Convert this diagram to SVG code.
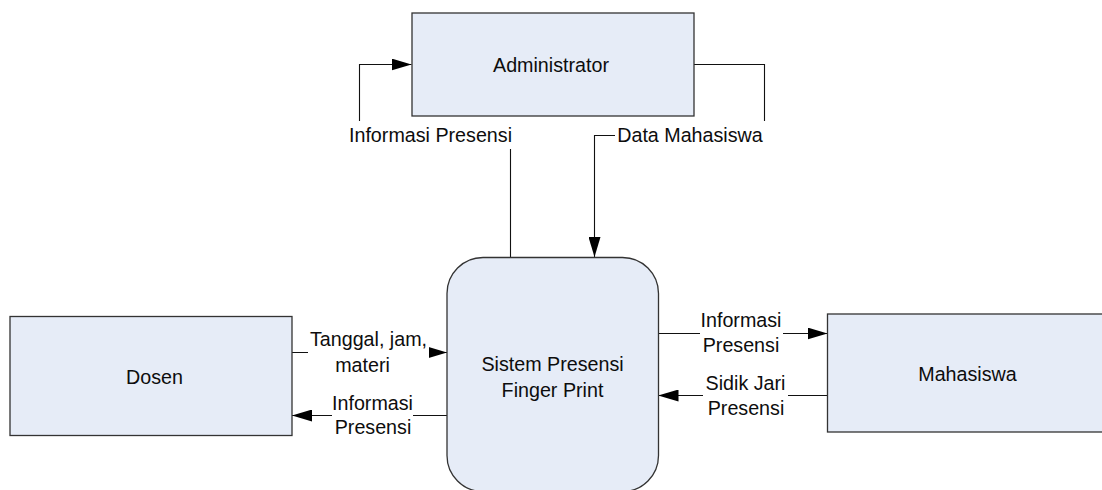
<svg xmlns="http://www.w3.org/2000/svg" width="1102" height="490" viewBox="0 0 1102 490">
  <style>
    .box { fill: #e6ecf7; stroke: #333333; stroke-width: 1.3; }
    .lbl { font-family: "Liberation Sans", Arial, sans-serif; font-size: 19.7px; fill: #0d0d0d; text-anchor: middle; }
    .conn { fill: none; stroke: #111; stroke-width: 1.1; }
    .bg { fill: #ffffff; stroke: none; }
  </style>
  <defs>
    <marker id="arrow" markerUnits="userSpaceOnUse" markerWidth="20" markerHeight="12" refX="20" refY="6" orient="auto">
      <path d="M0,0 L20,6 L0,12 Z" fill="#000"/>
    </marker>
  </defs>
  <rect width="1102" height="490" fill="#ffffff"/>

  <g id="connectors">
    <path class="conn" d="M510.5,257.5 V135.5 H359.5 V64.5 H411.5" marker-end="url(#arrow)"/>
    <path class="conn" d="M694,64.5 H764.5 V135.5 H594.5 V257" marker-end="url(#arrow)"/>
    <path class="conn" d="M292,352.5 H447" marker-end="url(#arrow)"/>
    <path class="conn" d="M447,415.5 H292" marker-end="url(#arrow)"/>
    <path class="conn" d="M658.5,333.5 H827.5" marker-end="url(#arrow)"/>
    <path class="conn" d="M827.5,395.5 H658.5" marker-end="url(#arrow)"/>

    <g id="label-admin-info">
      <rect class="bg" x="347" y="121" width="166" height="28"/>
      <text class="lbl" x="430.5" y="142">Informasi Presensi</text>
    </g>
    <g id="label-data-mhs">
      <rect class="bg" x="615" y="121" width="152" height="28"/>
      <text class="lbl" x="690" y="142">Data Mahasiswa</text>
    </g>
    <g id="label-tanggal">
      <rect class="bg" x="308" y="328" width="121" height="50"/>
      <text class="lbl" x="368.5" y="346">Tanggal, jam,</text>
      <text class="lbl" x="362.5" y="372">materi</text>
    </g>
    <g id="label-info-dosen">
      <rect class="bg" x="332" y="394" width="81" height="46"/>
      <text class="lbl" x="372.5" y="410">Informasi</text>
      <text class="lbl" x="373" y="434">Presensi</text>
    </g>
    <g id="label-info-mhs">
      <rect class="bg" x="700" y="311" width="83" height="46"/>
      <text class="lbl" x="741" y="327">Informasi</text>
      <text class="lbl" x="741" y="352">Presensi</text>
    </g>
    <g id="label-sidik">
      <rect class="bg" x="703" y="373" width="85" height="46"/>
      <text class="lbl" x="745.5" y="390">Sidik Jari</text>
      <text class="lbl" x="746" y="415">Presensi</text>
    </g>
  </g>

  <g id="administrator">
    <rect class="box" x="412" y="13" width="282" height="103"/>
    <text class="lbl" x="551" y="71.5">Administrator</text>
  </g>
  <g id="sistem">
    <rect class="box" x="447" y="257.5" width="211.5" height="234" rx="36" ry="36"/>
    <text class="lbl" x="552.5" y="370.5">Sistem Presensi</text>
    <text class="lbl" x="552.5" y="396.5">Finger Print</text>
  </g>
  <g id="dosen">
    <rect class="box" x="10" y="316.5" width="282" height="119"/>
    <text class="lbl" x="154.5" y="383.5">Dosen</text>
  </g>
  <g id="mahasiswa">
    <rect class="box" x="827.5" y="314" width="282" height="118"/>
    <text class="lbl" x="967.5" y="380.5">Mahasiswa</text>
  </g>
</svg>
